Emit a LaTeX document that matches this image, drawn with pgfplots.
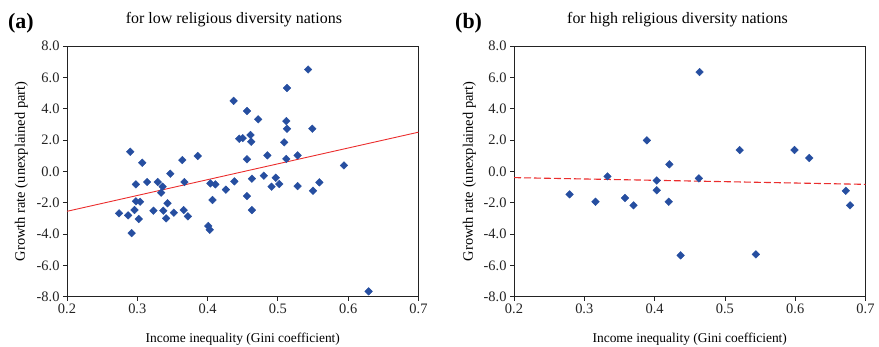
\documentclass[border=0pt]{standalone}
\usepackage{fontspec}
\setmainfont{Liberation Serif}
\usepackage{pgfplots}
\pgfplotsset{compat=1.18}
\definecolor{ptblue}{RGB}{38,78,160}
\definecolor{lnred}{RGB}{235,45,45}
\definecolor{axgray}{RGB}{35,35,35}
\pgfplotsset{
  panel/.style={
    scale only axis, width=351.5bp, height=250.7bp,
    xmin=0.2, xmax=0.7, ymin=-8, ymax=8,
    xtick={0.2,0.3,0.4,0.5,0.6,0.7}, ytick={-8,-6,-4,-2,0,2,4,6,8},
    xtick pos=left, ytick pos=left, tick align=outside,
    major tick length=4bp,
    axis line style={axgray, line width=0.9bp},
    tick style={axgray, line width=0.8bp},
    clip=false,
    /pgf/number format/assume math mode=true,
    xticklabel style={font=\fontsize{14.5}{14.5}\selectfont, text=axgray, /pgf/number format/.cd, fixed, fixed zerofill, precision=1},
    yticklabel style={font=\fontsize{14.5}{14.5}\selectfont, text=axgray, /pgf/number format/.cd, fixed, fixed zerofill, precision=1},
    xlabel style={font=\fontsize{13.5}{13.5}\selectfont, at={(axis description cs:0.5,0)}, anchor=base, yshift=-46bp},
    ylabel style={font=\fontsize{14.5}{14.5}\selectfont, at={(axis description cs:-0.13,0.5)}, anchor=center},
    title style={font=\fontsize{16}{16}\selectfont, anchor=base, yshift=17bp},
    xlabel={Income inequality (Gini coefficient)},
    ylabel={Growth rate (unexplained part)},
  },
  pts/.style={only marks, mark=square*, mark size=2.7bp, mark options={rotate=45, fill=ptblue, draw=ptblue}},
}
\begin{document}
\begin{tikzpicture}
\path[use as bounding box] (-67bp,-50.3bp) rectangle (812bp,296.7bp);
\begin{axis}[panel, title={for low religious diversity nations}, title style={at={(axis description cs:0.475,1)}}]
\addplot[lnred, line width=0.9bp] coordinates {(0.2,-2.55) (0.7,2.5)};
\addplot[pts] coordinates {
(0.290,1.25) (0.307,0.55) (0.386,0.98) (0.364,0.72) (0.347,-0.15) (0.298,-0.83)
(0.314,-0.68) (0.329,-0.68) (0.336,-0.98) (0.334,-1.36) (0.367,-0.68) (0.404,-0.77)
(0.411,-0.83) (0.438,-0.64) (0.456,0.77) (0.463,-0.47) (0.426,-1.17) (0.407,-1.83)
(0.456,-1.58) (0.463,-2.47) (0.298,-1.91) (0.304,-1.94) (0.343,-2.04) (0.274,-2.68)
(0.287,-2.81) (0.296,-2.47) (0.302,-3.04) (0.323,-2.51) (0.337,-2.51) (0.341,-3.0)
(0.352,-2.64) (0.366,-2.47) (0.372,-2.87) (0.292,-3.94) (0.401,-3.49) (0.403,-3.73)
(0.437,4.5) (0.456,3.85) (0.472,3.32) (0.445,2.08) (0.450,2.12) (0.461,2.32)
(0.462,1.89) (0.543,6.5) (0.513,5.32) (0.512,3.21) (0.513,2.72) (0.549,2.72)
(0.509,1.85) (0.485,1.02) (0.512,0.79) (0.528,1.02) (0.594,0.38) (0.480,-0.28)
(0.497,-0.41) (0.491,-0.98) (0.502,-0.81) (0.528,-0.94) (0.559,-0.70) (0.550,-1.24)
(0.629,-7.66)
};
\end{axis}
\begin{axis}[panel, at={(447bp,0)}, title={for high religious diversity nations}, title style={at={(axis description cs:0.465,1)}}, ylabel style={at={(axis description cs:-0.127,0.5)}}]
\addplot[lnred, line width=1.1bp, dash pattern=on 7bp off 3bp] coordinates {(0.2,-0.4) (0.7,-0.83)};
\addplot[pts] coordinates {
(0.279,-1.47) (0.316,-1.94) (0.333,-0.32) (0.358,-1.70) (0.370,-2.17) (0.389,1.98)
(0.403,-0.58) (0.403,-1.21) (0.421,0.45) (0.420,-1.94) (0.437,-5.36) (0.463,-0.45)
(0.464,6.34) (0.521,1.36) (0.544,-5.30) (0.599,1.36) (0.620,0.85) (0.672,-1.24)
(0.678,-2.17)
};
\end{axis}
\node[font=\bfseries\fontsize{22}{22}\selectfont, anchor=base west, inner sep=0pt] at (-59bp,267.7bp) {(a)};
\node[font=\bfseries\fontsize{22}{22}\selectfont, anchor=base west, inner sep=0pt] at (388bp,267.7bp) {(b)};
\end{tikzpicture}
\end{document}
